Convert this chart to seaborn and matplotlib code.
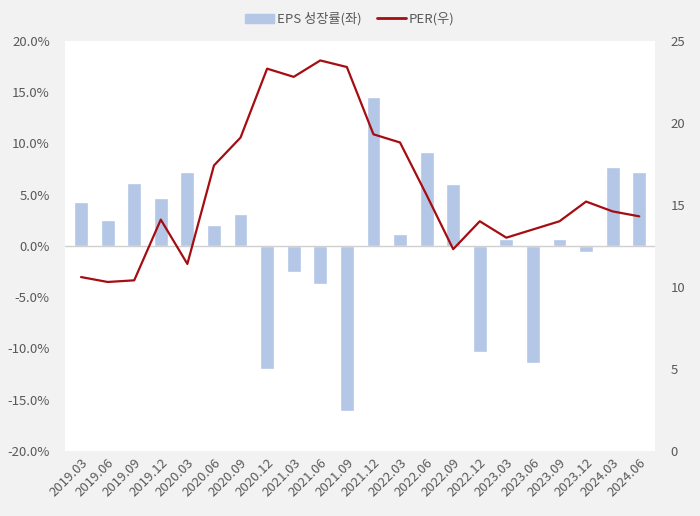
import numpy as np
import pandas as pd
import seaborn as sns
import matplotlib.pyplot as plt
from matplotlib.ticker import FuncFormatter
from matplotlib.patches import Patch
from matplotlib.lines import Line2D

quarters = ["2019.03", "2019.06", "2019.09", "2019.12", "2020.03", "2020.06", "2020.09",
            "2020.12", "2021.03", "2021.06", "2021.09", "2021.12", "2022.03", "2022.06",
            "2022.09", "2022.12", "2023.03", "2023.06", "2023.09", "2023.12", "2024.03",
            "2024.06"]
eps_growth = [4.3, 2.5, 6.1, 4.7, 7.2, 2.0, 3.1, -12.0, -2.5, -3.7, -16.1, 14.5, 1.2, 9.2,
              6.0, -10.3, 0.7, -11.4, 0.7, -0.6, 7.7, 7.2]
per = [10.6, 10.3, 10.4, 14.1, 11.4, 17.4, 19.1, 23.3, 22.8, 23.8, 23.4, 19.3, 18.8, 15.6,
       12.3, 14.0, 13.0, 13.5, 14.0, 15.2, 14.6, 14.3]

sns.set_style("white")
plt.rcParams['font.family'] = ['Noto Sans CJK KR', 'DejaVu Sans']

bar_color = '#b4c7e7'
line_color = '#a50d12'
text_color = '#595959'

df = pd.DataFrame({'quarter': quarters, 'eps': eps_growth, 'per': per})

fig = plt.figure(figsize=(7, 5.16), dpi=100, facecolor='#f2f2f2')
ax = fig.add_axes([0.093, 0.126, 0.843, 0.795])
ax.set_facecolor('white')

sns.barplot(data=df, x='quarter', y='eps', color=bar_color, width=0.52, saturation=1, ax=ax)
ax.axhline(0, color='#d0d0d0', lw=1, zorder=1)
ax.set_ylim(-20, 20)
ax.set_yticks(np.arange(-20, 21, 5))
ax.yaxis.set_major_formatter(FuncFormatter(lambda v, p: f"{v:.1f}%"))
ax.set_xlim(-0.6, len(quarters) - 0.4)
ax.set_xlabel('')
ax.set_ylabel('')
ax.tick_params(axis='y', length=0, labelsize=9.5, colors=text_color, pad=11)
ax.tick_params(axis='x', length=0, labelsize=9.5, colors=text_color, pad=4)
plt.setp(ax.get_xticklabels(), rotation=45, ha='right', rotation_mode='anchor')

ax2 = ax.twinx()
sns.lineplot(x=np.arange(len(quarters)), y=df['per'], color=line_color, lw=1.6, ax=ax2)
ax2.set_ylim(0, 25)
ax2.set_yticks(np.arange(0, 26, 5))
ax2.set_ylabel('')
ax2.tick_params(axis='y', length=0, labelsize=9.5, colors=text_color, pad=11)

for a in (ax, ax2):
    for s in a.spines.values():
        s.set_visible(False)

handles = [Patch(color=bar_color, label='EPS 성장률(좌)'),
           Line2D([0], [0], color=line_color, lw=2, label='PER(우)')]
fig.legend(handles=handles, loc='center', bbox_to_anchor=(0.5, 0.963), ncol=2, frameon=False,
           fontsize=9.5, labelcolor=text_color, handlelength=2.2, handletextpad=0.2,
           columnspacing=1.2)

fig.savefig('out.png', dpi=100, facecolor=fig.get_facecolor())
